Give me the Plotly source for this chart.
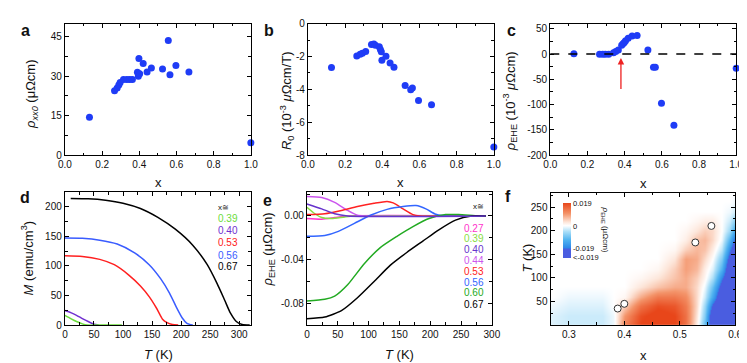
import plotly.graph_objects as go

W, H = 747, 363
FONT = "Liberation Sans, Arial, sans-serif"
DOT = "#1f3cf6"

# ---- (a) rho_xx0 vs x
a_x = [0.132, 0.267, 0.281, 0.29, 0.297, 0.315, 0.333, 0.348, 0.363, 0.39, 0.395, 0.398, 0.402,
       0.421, 0.442, 0.465, 0.525, 0.556, 0.565, 0.597, 0.667, 1.0]
a_rho = [14.4, 24.5, 25.5, 26.7, 27.6, 28.8, 28.8, 28.8, 28.8, 31.5, 30.0, 36.8, 31.0,
         34.9, 31.6, 33.1, 32.8, 43.6, 30.6, 34.1, 31.6, 4.7]

# ---- (b) R0 vs x  (10^-3 uOhm cm / T)
b_x = [0.127, 0.263, 0.281, 0.293, 0.311, 0.342, 0.355, 0.363, 0.384, 0.39, 0.395, 0.398,
       0.42, 0.442, 0.463, 0.523, 0.553, 0.562, 0.595, 0.665, 1.0]
b_r0 = [-2.67, -1.96, -1.86, -1.8, -1.69, -1.27, -1.24, -1.31, -1.41, -1.57, -1.71, -2.22,
        -1.98, -2.39, -2.65, -3.76, -4.02, -3.92, -4.67, -4.94, -7.51]

# ---- (c) rho_EHE vs x  (10^-3 uOhm cm)
c_x = [0.127, 0.265, 0.282, 0.296, 0.314, 0.34, 0.352, 0.366, 0.384, 0.391, 0.398, 0.405,
       0.419, 0.44, 0.467, 0.525, 0.555, 0.565, 0.598, 0.665, 1.0]
c_rho = [0.5, -0.5, -0.5, -0.5, -0.5, 2.6, 5.2, 7.7, 17.3, 20.5, 23, 26,
         31.3, 35.7, 36.5, 7.8, -26, -26, -97.4, -140.8, -28]

# ---- (d) M(T) curves, emu/cm3
d_labels = ["0.39", "0.40", "0.53", "0.56", "0.67"]
d_colors = ["#6cdc3c", "#7030d0", "#ff2020", "#3a5cff", "#000000"]
d_T = [
    [0, 10, 20, 30, 38, 60, 98],
    [0, 10, 20, 30, 40, 50, 58],
    [0, 30, 60, 85, 110, 130, 145, 158, 168, 176, 185, 195],
    [0, 30, 60, 90, 120, 145, 165, 180, 192, 202, 210, 220],
    [10, 40, 70, 100, 130, 160, 190, 220, 245, 262, 275, 285, 295, 305, 318],
]
d_M = [
    [16.4, 11, 6, 2, 0, 0, 0],
    [24.5, 21, 16.5, 11, 6, 1.5, 0],
    [117, 116, 111, 102, 84.5, 66, 48, 28, 10, 4, 1, 0],
    [147, 146.5, 143.5, 137, 122, 102, 78, 54, 30, 12, 3, 0],
    [214, 213.5, 211, 206, 197, 182, 162, 135, 102, 70, 42, 20, 6, 1, 0],
]

# ---- (e) rho_EHE(T) curves, uOhm cm
e_labels = ["0.27", "0.39", "0.40", "0.44", "0.53", "0.56", "0.60", "0.67"]
e_colors = ["#ff33cc", "#88dd44", "#6633cc", "#cc55ee", "#ff2222", "#3366ff", "#22aa22", "#000000"]
e_T = [
    [0, 24, 45, 66, 290],
    [0, 13, 24, 40, 61, 77, 290],
    [0, 24, 45, 66, 290],
    [0, 24, 45, 66, 82, 95, 290],
    [0, 29, 56, 82, 109, 130, 140, 156, 172, 183, 290],
    [0, 29, 51, 77, 103, 130, 156, 177, 193, 209, 225, 290],
    [0, 29, 45, 66, 93, 119, 146, 172, 198, 225, 246, 278, 290],
    [0, 29, 56, 82, 109, 135, 162, 188, 214, 241, 267, 290],
]
e_rho = [
    [-0.0024, -0.003, -0.0015, 0, 0],
    [0.008, 0.002, -0.0015, -0.0024, -0.0009, 0, 0],
    [0.011, 0.0065, 0.002, 0, 0],
    [0.0178, 0.0169, 0.0124, 0.005, 0.0006, 0, 0],
    [0.0012, 0.002, 0.005, 0.0086, 0.0116, 0.0133, 0.012, 0.0065, 0.0012, 0, 0],
    [-0.0187, -0.018, -0.0142, -0.0068, 0.0006, 0.006, 0.0086, 0.0095, 0.0065, 0.0015, 0, 0],
    [-0.078, -0.0764, -0.0735, -0.0631, -0.0438, -0.029, -0.0187, -0.0098, -0.0024, 0.0012, 0.0012, 0, 0],
    [-0.0942, -0.0927, -0.0868, -0.075, -0.0601, -0.0453, -0.0335, -0.0231, -0.0127, -0.0038, 0, 0],
]

# ---- (f) rho_EHE map (10^-3 uOhm cm), rows = T, columns = x
f_x = [0.27, 0.30, 0.33, 0.36, 0.38, 0.40, 0.43, 0.46, 0.49, 0.51, 0.53, 0.545, 0.56, 0.575, 0.59, 0.60]
f_T = [0, 20, 40, 60, 80, 100, 120, 140, 160, 180, 200, 220, 240, 260, 280]
f_rho = [
    [-2, -3, -3, -3, -1, 12, 19, 22, 19, 14, 2, -10, -27, -27, -27, -27],
    [-2, -3, -3, -3, -1, 10, 18, 21, 19, 14, 3, -8, -27, -27, -27, -27],
    [-1, -2, -2, -2, 0, 5, 14, 18, 17, 13, 4, -6, -21, -27, -27, -27],
    [0, -1, -1, -1, 0, 1, 8, 13, 13, 11, 4, -3, -14, -27, -27, -27],
    [0, 0, 0, 0, 0, 0, 3, 6, 8, 8, 4, -1, -10, -23, -27, -27],
    [0, 0, 0, 0, 0, 0, 1, 3, 6, 8, 5, 1, -5, -18, -27, -27],
    [0, 0, 0, 0, 0, 0, 0, 1, 5, 9, 7, 2, -2, -12, -27, -27],
    [0, 0, 0, 0, 0, 0, 0, 0, 3, 9, 8, 4, 0, -8, -23, -27],
    [0, 0, 0, 0, 0, 0, 0, 0, 1, 5, 7, 6, 2, -4, -18, -27],
    [0, 0, 0, 0, 0, 0, 0, 0, 0, 2, 6, 7, 4, -1, -12, -22],
    [0, 0, 0, 0, 0, 0, 0, 0, 0, 1, 3, 5, 4, 0, -6, -15],
    [0, 0, 0, 0, 0, 0, 0, 0, 0, 0, 1, 2, 2, 0, -3, -8],
    [0, 0, 0, 0, 0, 0, 0, 0, 0, 0, 0, 0, 0, 0, -1, -3],
    [0, 0, 0, 0, 0, 0, 0, 0, 0, 0, 0, 0, 0, 0, 0, -1],
    [0, 0, 0, 0, 0, 0, 0, 0, 0, 0, 0, 0, 0, 0, 0, 0],
]
f_tc_x = [0.388, 0.400, 0.528, 0.557]
f_tc_T = [35, 45, 175, 210]


def px(x):
    return x / W


def py(y):
    return 1 - y / H


def axis(dom, anchor, rng, tickvals, ticktext, minor_dtick, minor_tick0=0):
    return dict(domain=dom, anchor=anchor, range=rng, tickmode="array", tickvals=tickvals,
                ticktext=ticktext, showline=True, linecolor="black", linewidth=1.2,
                mirror="allticks", ticks="inside", ticklen=4, tickwidth=1, tickcolor="black",
                showgrid=False, zeroline=False, tickfont=dict(size=10, color="#111", family=FONT),
                minor=dict(tickmode="linear", dtick=minor_dtick, tick0=minor_tick0, ticks="inside",
                           ticklen=2.5, tickwidth=1, tickcolor="black", showgrid=False))


fig = go.Figure()

# scatter panels
fig.add_trace(go.Scatter(x=a_x, y=a_rho, mode="markers", marker=dict(size=7, color=DOT),
                         cliponaxis=False, xaxis="x", yaxis="y"))
fig.add_trace(go.Scatter(x=b_x, y=b_r0, mode="markers", marker=dict(size=7, color=DOT),
                         cliponaxis=False, xaxis="x2", yaxis="y2"))
fig.add_trace(go.Scatter(x=c_x, y=c_rho, mode="markers", marker=dict(size=7, color=DOT),
                         cliponaxis=False, xaxis="x3", yaxis="y3"))

# M(T)
for i in [4, 3, 2, 1, 0]:
    fig.add_trace(go.Scatter(x=d_T[i], y=d_M[i], mode="lines", line=dict(color=d_colors[i], width=1.5, shape="spline", smoothing=0.6),
                             xaxis="x4", yaxis="y4"))

# rho_EHE(T)
for i in [0, 1, 3, 4, 5, 6, 7, 2]:
    fig.add_trace(go.Scatter(x=e_T[i], y=e_rho[i], mode="lines", line=dict(color=e_colors[i], width=1.5, shape="spline", smoothing=0.6),
                             xaxis="x5", yaxis="y5"))

# map
zmin, zmax = -0.027, 0.019
stops = [(-0.027, "#4a5de0"), (-0.0193, "#4a5de0"), (-0.0188, "#2d86e8"), (-0.012, "#4fb3f0"),
         (-0.005, "#a9def8"), (0.0, "#ffffff"), (0.003, "#fde6da"), (0.01, "#f4946a"), (0.019, "#e8461a")]
cscale = [[(v - zmin) / (zmax - zmin), c] for v, c in stops]
fig.add_trace(go.Heatmap(x=f_x, y=f_T, z=[[v / 1000 for v in row] for row in f_rho],
                         zmin=zmin, zmax=zmax, colorscale=cscale, zsmooth="best",
                         xaxis="x6", yaxis="y6",
                         colorbar=dict(x=px(560), xanchor="left", y=py(224.3), yanchor="middle",
                                       len=56.7 / H, thickness=8, outlinewidth=0, ticks="",
                                       xpad=0, ypad=0,
                                       tickvals=[0.019, 0, -0.019, -0.026],
                                       ticktext=["0.019", "0", "-0.019", "<-0.019"],
                                       tickfont=dict(size=7.5, family=FONT, color="#111"))))
fig.add_trace(go.Scatter(x=f_tc_x, y=f_tc_T, mode="markers",
                         marker=dict(size=7, color="white", line=dict(color="#333", width=1)),
                         xaxis="x6", yaxis="y6"))

xt01 = [0, 0.2, 0.4, 0.6, 0.8, 1.0]
xl01 = ["0.0", "0.2", "0.4", "0.6", "0.8", "1.0"]
top = [py(146), py(10)]
bot = [py(321.7), py(184)]
tvals = [0, 50, 100, 150, 200, 250, 300]

fig.update_layout(
    width=W, height=H, margin=dict(l=0, r=0, t=0, b=0),
    paper_bgcolor="white", plot_bgcolor="white", showlegend=False,
    font=dict(family=FONT, color="#111"),
    xaxis=axis([px(51), px(241)], "y", [0, 1], xt01, xl01, 0.1),
    yaxis=axis(top, "x", [0, 50], [0, 15, 30, 45], ["0", "15", "30", "45"], 7.5),
    xaxis2=axis([px(299.3), px(489.3)], "y2", [0, 1], xt01, xl01, 0.1),
    yaxis2=axis(top, "x2", [-8, 0], [0, -2, -4, -6, -8], ["0", "-2", "-4", "-6", "-8"], 1),
    xaxis3=axis([px(547), px(737)], "y3", [0, 1], xt01, xl01, 0.1),
    yaxis3=axis(top, "x3", [-200, 60], [50, 0, -50, -100, -150, -200],
                ["50", "0", "-50", "-100", "-150", "-200"], 25),
    xaxis4=axis([px(51), px(241)], "y4", [0, 320], tvals, [str(t) for t in tvals], 25),
    yaxis4=axis(bot, "x4", [0, 225], [0, 50, 100, 150, 200], ["0", "50", "100", "150", "200"], 25),
    xaxis5=axis([px(298.3), px(487.3)], "y5", [0, 300], tvals, [str(t) for t in tvals], 25),
    yaxis5=axis(bot, "x5", [-0.1, 0.022], [0, -0.04, -0.08], ["0.00", "-0.04", "-0.08"], 0.02),
    xaxis6=axis([px(547.3), px(736)], "y6", [0.267, 0.6], [0.3, 0.4, 0.5, 0.6],
                ["0.3", "0.4", "0.5", "0.6"], 0.05, 0.25),
    yaxis6=axis([py(321.7), py(185)], "x6", [0, 280], [50, 100, 150, 200, 250],
                ["50", "100", "150", "200", "250"], 25),
)

# dashed zero line and arrow in (c)
fig.add_shape(type="line", xref="x3 domain", yref="y3", x0=0, x1=1, y0=0, y1=0,
              line=dict(color="black", width=1.3, dash="dash"))
fig.add_annotation(x=0.38, y=-8, ax=0.38, ay=-72, xref="x3", yref="y3", axref="x3", ayref="y3",
                   text="", showarrow=True, arrowhead=2, arrowsize=1, arrowwidth=1.3, arrowcolor="#ee2222")


def label(x, y, text, size=13, angle=0, color="#111", xanchor="center", bold=False):
    if bold:
        text = "<b>" + text + "</b>"
    fig.add_annotation(x=px(x), y=py(y), xref="paper", yref="paper", text=text, showarrow=False,
                       textangle=angle, xanchor=xanchor, yanchor="middle",
                       font=dict(size=size, color=color, family=FONT))


# panel letters
for t, x, y in [("a", 4, 17), ("b", 252, 17), ("c", 501, 17), ("d", 3, 190), ("e", 251, 193), ("f", 499, 189)]:
    label(x, y, t, size=16, xanchor="left", bold=True)

# axis titles
label(147, 174, "x")
label(394, 174, "x")
label(642, 175, "x")
label(147, 352, "<i>T</i> (K)")
label(393, 352, "<i>T</i> (K)")
label(642, 353, "x")
label(17, 83, "<i>ρ</i><sub><i>xx0</i></sub> (μΩcm)", angle=-90)
label(278, 90, "<i>R</i><sub>0</sub> (10<sup>-3</sup> <i>μ</i>Ωcm/T)", angle=-90)
label(506, 90, "<i>ρ</i><sub>EHE</sub> (10<sup>-3</sup> <i>μ</i>Ωcm)", angle=-90)
label(12, 253, "<i>M</i> (emu/cm<sup>3</sup>)", angle=-90)
label(260, 243, "<i>ρ</i><sub>EHE</sub> (μΩcm)", angle=-90)
label(524, 252, "<i>T</i> (K)", angle=-90)
label(603, 223, "<i>ρ</i><sub>EHE</sub> (μΩcm)", size=8, angle=90)

# legends
label(205, 200, "x≅", size=8, xanchor="left")
for i, yy in enumerate([211.7, 224, 236.7, 249.3, 260.7]):
    label(205, yy, d_labels[i], size=10, color=d_colors[i], xanchor="left")
label(481, 199.3, "x≅", size=8, xanchor="right")
for i, yy in enumerate([222.3, 232.3, 244, 255, 266.7, 277.3, 288.3, 300]):
    label(481, yy, e_labels[i], size=10, color=e_colors[i], xanchor="right")

fig.write_html("out.html")
